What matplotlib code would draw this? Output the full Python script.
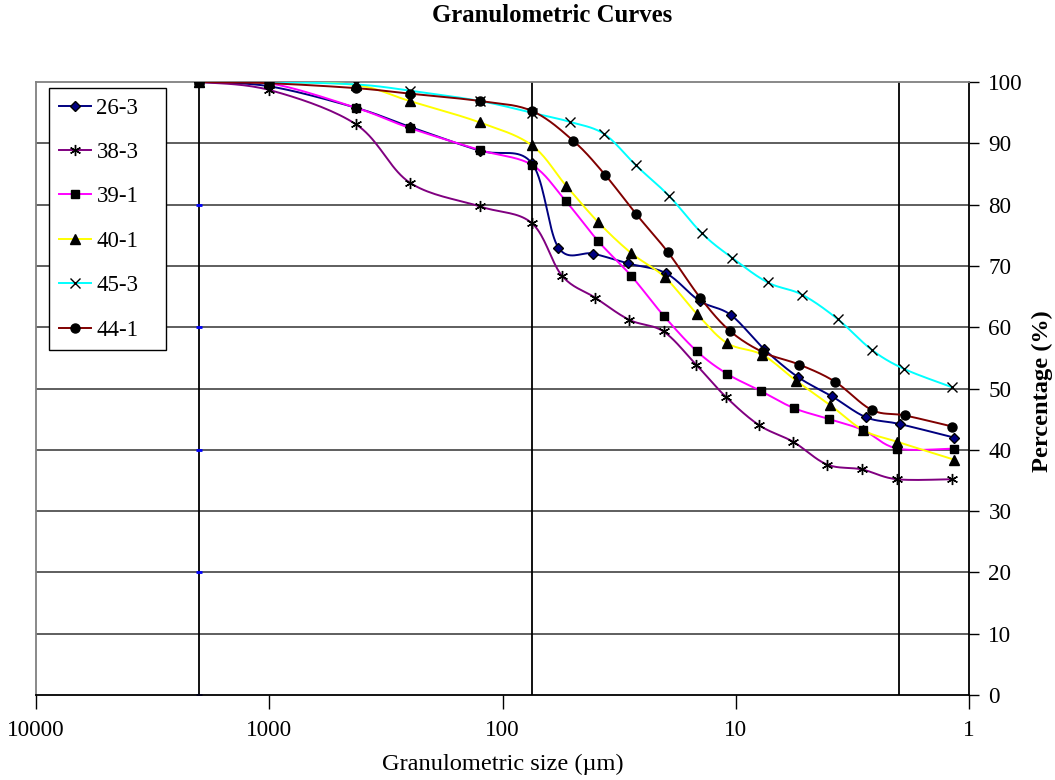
import numpy as np
import matplotlib
matplotlib.use('Agg')
import matplotlib.pyplot as plt

plt.rcParams['font.family'] = ['Liberation Serif', 'DejaVu Serif']

# Readings (size in um, cumulative passing in %)
sizes_26_3 = [2000, 1000, 425, 250, 125, 75, 57.6, 40.8, 29.0, 19.9, 14.3, 10.5, 7.54, 5.43, 3.86, 2.76, 1.98, 1.16]
pct_26_3 = [100, 99.3, 95.8, 92.7, 88.8, 86.8, 73.0, 72.0, 70.4, 68.8, 64.3, 62.0, 56.4, 51.9, 48.7, 45.3, 44.2, 42.0]

sizes_38_3 = [2000, 1000, 425, 250, 125, 75, 55.6, 40.0, 28.6, 20.4, 14.8, 11.0, 7.93, 5.67, 4.06, 2.88, 2.04, 1.18]
pct_38_3 = [100, 98.7, 93.1, 83.6, 79.7, 77.0, 68.4, 64.8, 61.2, 59.3, 53.9, 48.6, 44.0, 41.3, 37.6, 36.8, 35.2, 35.2]

sizes_39_1 = [2000, 1000, 425, 250, 125, 75, 53.6, 38.8, 28.1, 20.4, 14.7, 10.9, 7.82, 5.63, 3.97, 2.84, 2.03, 1.16]
pct_39_1 = [100, 99.8, 95.8, 92.5, 88.9, 86.5, 80.6, 74.0, 68.4, 61.9, 56.1, 52.4, 49.6, 46.8, 45.0, 43.2, 40.2, 40.2]

sizes_40_1 = [2000, 1000, 425, 250, 125, 75, 53.4, 38.8, 28.1, 20.2, 14.7, 10.9, 7.69, 5.52, 3.94, 2.84, 2.03, 1.16]
pct_40_1 = [100, 100, 99.5, 96.9, 93.4, 89.7, 83.1, 77.1, 72.1, 68.2, 62.2, 57.4, 55.5, 51.3, 47.3, 43.2, 41.3, 38.4]

sizes_45_3 = [2000, 1000, 425, 250, 125, 75, 51.4, 36.6, 26.8, 19.3, 13.95, 10.35, 7.29, 5.19, 3.65, 2.61, 1.90, 1.18]
pct_45_3 = [100, 100, 99.6, 98.6, 96.9, 95.0, 93.5, 91.5, 86.4, 81.4, 75.3, 71.3, 67.3, 65.3, 61.3, 56.3, 53.2, 50.2]

sizes_44_1 = [2000, 1000, 425, 250, 125, 75, 49.7, 36.4, 26.8, 19.5, 14.2, 10.6, 7.62, 5.34, 3.75, 2.61, 1.88, 1.18]
pct_44_1 = [100, 99.8, 99.0, 98.1, 96.9, 95.3, 90.4, 84.9, 78.5, 72.2, 64.8, 59.4, 55.9, 53.9, 51.1, 46.5, 45.6, 43.8]

# class boundaries drawn as vertical lines, plus the small blue marks at 2000
boundaries = [2000, 75, 2]
mark_levels = [0, 20, 40, 60, 80, 100]

series = [
    ('26-3', sizes_26_3, pct_26_3, '#000080', 'D', '#000080', 5),
    ('38-3', sizes_38_3, pct_38_3, '#800080', (6, 2, 0), 'black', 8),
    ('39-1', sizes_39_1, pct_39_1, '#FF00FF', 's', 'black', 6),
    ('40-1', sizes_40_1, pct_40_1, '#FFFF00', '^', 'black', 6.5),
    ('45-3', sizes_45_3, pct_45_3, '#00FFFF', 'x', 'black', 6.5),
    ('44-1', sizes_44_1, pct_44_1, '#800000', 'o', 'black', 6.5),
]


def smooth(xs, ys, n=20):
    # Excel-like smoothed line: Catmull-Rom bezier in (log x, y)
    u = np.log10(np.array(xs, dtype=float))
    v = np.array(ys, dtype=float)
    P = np.column_stack([u, v])
    P = np.vstack([P[0], P, P[-1]])
    out = []
    t = np.linspace(0, 1, n)[:, None]
    for i in range(1, len(P) - 2):
        p0, p1, p2, p3 = P[i - 1], P[i], P[i + 1], P[i + 2]
        c1 = p1 + (p2 - p0) / 6
        c2 = p2 - (p3 - p1) / 6
        seg = ((1 - t) ** 3) * p1 + 3 * ((1 - t) ** 2) * t * c1 + 3 * (1 - t) * t ** 2 * c2 + t ** 3 * p2
        out.append(seg if i == 1 else seg[1:])
    out = np.vstack(out)
    return 10 ** out[:, 0], out[:, 1]


fig = plt.figure(figsize=(10.55, 7.8), dpi=100)
ax = fig.add_axes([36 / 1055, 1 - 695 / 780, 933 / 1055, 613 / 780])

ax.set_xscale('log')
ax.set_xlim(10000, 1)
ax.set_ylim(0, 100)

for yv in range(10, 100, 10):
    ax.axhline(yv, color='#333333', lw=1.1, zorder=1)
for b in boundaries:
    ax.axvline(b, color='black', lw=1.3, zorder=1)
ax.plot([2000] * len(mark_levels), mark_levels, ls='none', marker='_', color='blue',
        ms=4, mew=2, zorder=2)

for name, xs, ys, col, mk, mfc, ms in series:
    sx, sy = smooth(xs, ys)
    ax.plot(sx, sy, color=col, lw=1.4, zorder=3)
    ax.plot(xs, ys, ls='none', marker=mk, ms=ms, mfc=mfc, mec='black',
            mew=1.0, zorder=4)
    # proxy for legend
    ax.plot([], [], color=col, lw=1.4, marker=mk, ms=ms, mfc=mfc, mec='black',
            mew=1.0, label=name)

ax.yaxis.tick_right()
ax.set_yticks(range(0, 101, 10))
ax.set_xticks([10000, 1000, 100, 10, 1])
ax.set_xticklabels(['10000', '1000', '100', '10', '1'])
ax.xaxis.set_minor_locator(matplotlib.ticker.NullLocator())
ax.tick_params(axis='x', direction='out', length=10, width=1, pad=8, labelsize=16.7)
ax.tick_params(axis='y', direction='out', length=7, width=1, pad=7, labelsize=16.7)

for s in ['left', 'top']:
    ax.spines[s].set_color('#808080')
    ax.spines[s].set_linewidth(1.3)
for s in ['right', 'bottom']:
    ax.spines[s].set_color('black')
    ax.spines[s].set_linewidth(1.3)

ax.set_xlabel('Granulometric size (\u00b5m)', fontsize=17.6, labelpad=9)
fig.text(1042 / 1055, 1 - 391 / 780, 'Percentage (%)', rotation=90, ha='center', va='center',
         fontsize=17.6, fontweight='bold')
fig.text(552 / 1055, 1 - 16 / 780, 'Granulometric Curves', ha='center', va='center',
         fontsize=17.8, fontweight='bold')

leg_top = 1 - 6 / 613
leg = ax.legend(loc='upper left', bbox_to_anchor=(13 / 933, leg_top - 0.5, 117 / 933, 0.5),
                mode='expand', borderaxespad=0,
                fontsize=16.5, handlelength=1.4, handletextpad=0.25, labelspacing=1.02,
                borderpad=0.42, fancybox=False, framealpha=1, edgecolor='black')
leg.get_frame().set_linewidth(1.0)

fig.savefig('out.png', dpi=100)
